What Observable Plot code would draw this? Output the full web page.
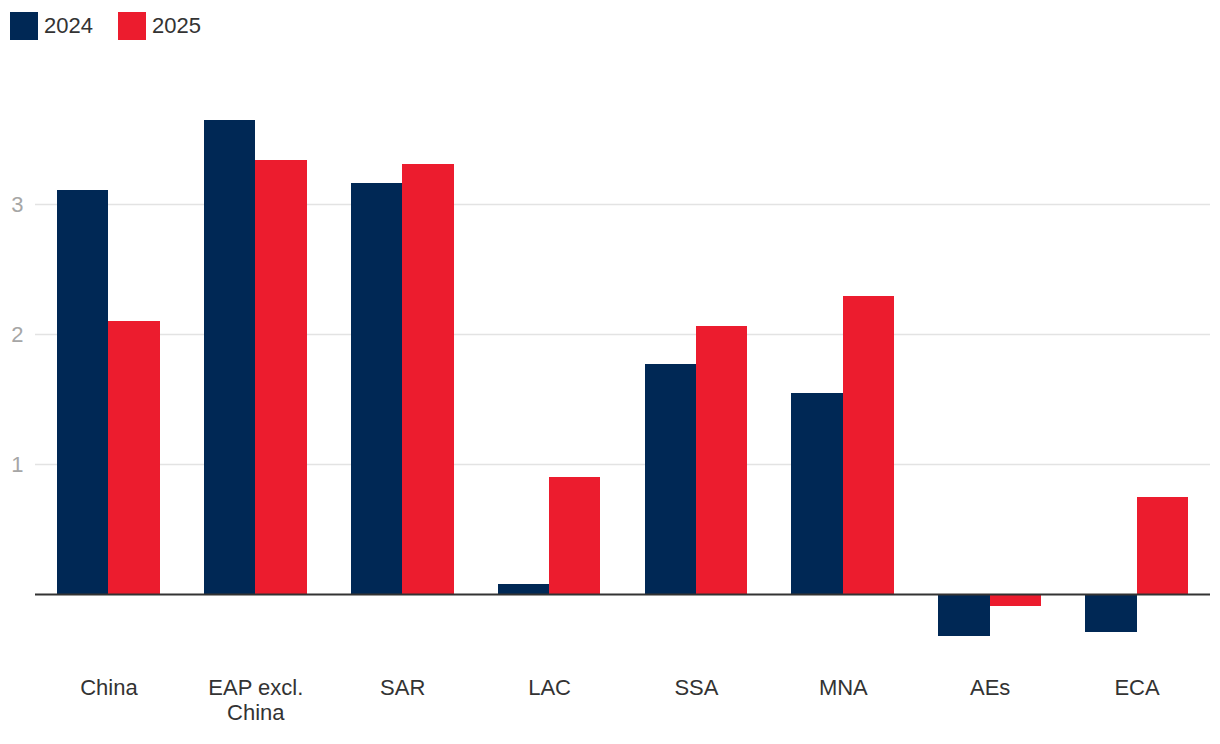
<!DOCTYPE html>
<html>
<head>
<meta charset="utf-8">
<script src="https://cdn.jsdelivr.net/npm/d3@7"></script>
<script src="https://cdn.jsdelivr.net/npm/@observablehq/plot@0.6"></script>
<style>
  html, body { margin: 0; padding: 0; background: #fff; }
  body { font-family: "Liberation Sans", Arial, Helvetica, sans-serif; width: 1220px; height: 744px; overflow: hidden; }
  #legend { height: 50px; position: relative; }
  .item { position: absolute; top: 12px; display: flex; align-items: center; height: 28px; }
  .sw { width: 28px; height: 28px; margin-right: 6px; }
  .lab { font-size: 22px; color: #333; }
</style>
</head>
<body>
<div id="legend"></div>
<div id="chart"></div>
<script>
const regions = ["China", "EAP excl. China", "SAR", "LAC", "SSA", "MNA", "AEs", "ECA"];
const years = ["2024", "2025"];
const values2024 = [3.11, 3.65, 3.16, 0.08, 1.77, 1.55, -0.32, -0.29];
const values2025 = [2.10, 3.34, 3.31, 0.90, 2.06, 2.29, -0.09, 0.75];
const yTicks = [1, 2, 3];
const colors = ["#002855", "#ec1c2e"];

const data2024 = regions.map((r, i) => ({region: r, year: "2024", value: values2024[i]}));
const data2025 = regions.map((r, i) => ({region: r, year: "2025", value: values2025[i]}));

// legend
const legend = document.getElementById("legend");
const lx = [10, 118];
years.forEach((y, i) => {
  const it = document.createElement("div");
  it.className = "item";
  it.style.left = lx[i] + "px";
  it.innerHTML = `<div class="sw" style="background:${colors[i]}"></div><span class="lab">${y}</span>`;
  legend.appendChild(it);
});

const half = 146.875 * 0.7 / 2;
const labelText = {"EAP excl. China": "EAP excl.\nChina"};

const chart = Plot.plot({
  width: 1220,
  height: 694,
  marginLeft: 35,
  marginRight: 10,
  marginTop: 50,
  marginBottom: 85,
  style: {fontFamily: '"Liberation Sans", Arial, sans-serif', fontSize: "22px", background: "#fff"},
  x: {domain: regions, paddingInner: 0.3, paddingOuter: 0.15, round: false, label: null},
  y: {domain: [-0.5, 3.8], label: null},
  marks: [
    Plot.ruleY(yTicks, {stroke: "#e3e3e3", strokeWidth: 1.5}),
    Plot.axisY(yTicks, {tickSize: 0, tickPadding: 12, color: "#a6a6a6", fontSize: 22, label: null, tickFormat: d3.format("d")}),
    Plot.axisX({tickSize: 0, tickPadding: 18, fill: "#333", fontSize: 22, lineHeight: 1.12, label: null,
      tickFormat: d => labelText[d] ?? d}),
    Plot.barY(data2024, {x: "region", y: "value", fill: colors[0], insetRight: half, shapeRendering: "crispEdges"}),
    Plot.barY(data2025, {x: "region", y: "value", fill: colors[1], insetLeft: half, shapeRendering: "crispEdges"}),
    Plot.ruleY([0], {stroke: "#333", strokeWidth: 2})
  ]
});
document.getElementById("chart").appendChild(chart);
</script>
</body>
</html>
